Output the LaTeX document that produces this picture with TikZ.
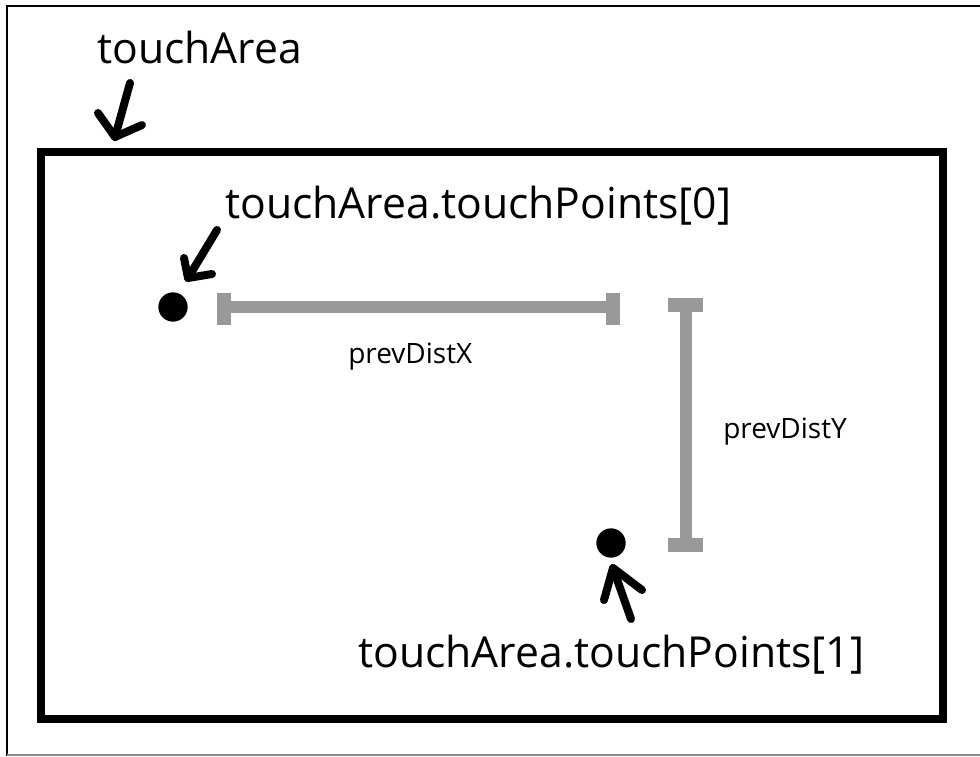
\documentclass[tikz,border=0pt]{standalone}
\usepackage{fontspec}
\setmainfont{Open Sans}
\begin{document}
\begin{tikzpicture}[x=0.75pt,y=-0.75pt,
  big/.style={anchor=base west,inner sep=0pt,font=\fontsize{32}{36}\selectfont},
  small/.style={anchor=base west,inner sep=0pt,font=\fontsize{21}{25}\selectfont},
  touchdot/.style={circle,fill=black,inner sep=0pt,minimum size=22pt},
  pointer/.style={line width=6pt,line cap=round,line join=round},
  bar/.style={draw=black!40,line width=9.5pt},
  barcap/.style={draw=black!40,line width=10pt}]
\useasboundingbox (0,0) rectangle (980,756);
\fill[white] (0,0) rectangle (980,756);
% frame of the picture
\draw[line width=1.6pt] (980,6) -- (7,6) -- (7,756);
\draw[black!45,line width=1.2pt] (7,755) -- (980,755);
% touch area
\draw[line width=6pt,line join=miter] (41,152) rectangle (943,719);
% labels
\node[big] (lArea) at (97,64) {touchArea};
\node[big] (l0) at (225,218) {touchArea.touchPoints[0]};
\node[big] (l1) at (358,667) {touchArea.touchPoints[1]};
\node[small] (lx) at (348,363) {prevDistX};
\node[small] (ly) at (723,438) {prevDistY};
% touch points
\node[touchdot] (p0) at (173,307) {};
\node[touchdot] (p1) at (611,543) {};
% pointer arrows
\coordinate (aT) at (130,83); \coordinate (aH) at (115,137);
\coordinate (aL) at (98,113); \coordinate (aR) at (142,125);
\draw[pointer] (aT) -- (aH); \draw[pointer] (aL) -- (aH) -- (aR);
\coordinate (bT) at (217,230); \coordinate (bH) at (188,278);
\coordinate (bL) at (184,258); \coordinate (bR) at (212,274);
\draw[pointer] (bT) -- (bH); \draw[pointer] (bL) -- (bH) -- (bR);
\coordinate (cT) at (631,619); \coordinate (cH) at (613,568);
\coordinate (cL) at (604,600); \coordinate (cR) at (642,590);
\draw[pointer] (cT) -- (cH); \draw[pointer] (cL) -- (cH) -- (cR);
% distance bars
\coordinate (xA) at (224,307); \coordinate (xB) at (613,307);
\draw[bar] (xA) -- (xB);
\draw[barcap] (224,293) -- (224,325);
\draw[barcap] (613,293) -- (613,325);
\coordinate (yA) at (686,305); \coordinate (yB) at (686,545);
\draw[bar] (yA) -- (yB);
\draw[barcap] (668,305) -- (703,305);
\draw[barcap] (668,545) -- (703,545);
\end{tikzpicture}
\end{document}
